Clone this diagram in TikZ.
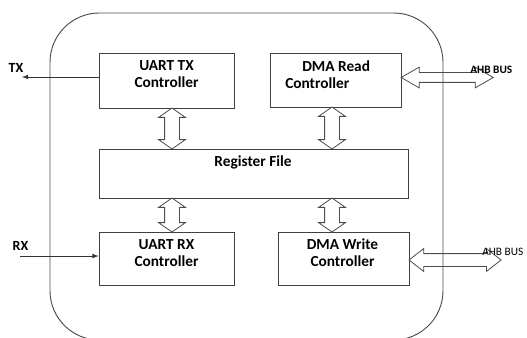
\documentclass[tikz,border=0pt]{standalone}
\usepackage{fontspec}
\setmainfont{Carlito}
\usepackage{tikz}
\usetikzlibrary{shapes, arrows, calc}

\tikzset{
  block/.style={draw=black!75, line width=0.6pt, inner sep=0pt},
  blocktext/.style={font=\bfseries\fontsize{11.5}{12.75}\selectfont, align=center, inner sep=0.75pt},
  sigtext/.style={font=\bfseries\fontsize{10.5}{12}\selectfont, inner sep=0.75pt},
  bustext/.style={font=\fontsize{8.5}{10}\selectfont, inner sep=0.75pt, anchor=west},
  sig/.style={draw=black!80, line width=0.6pt, -latex},
  busarrow/.style={double arrow, draw=black!70, line width=0.6pt, inner xsep=0pt},
}

\begin{document}
\begin{tikzpicture}[x=0.75pt,y=0.75pt,yscale=-1,xscale=1]
\useasboundingbox (0,0) rectangle (527,338);

%Outer frame
\draw[black!70, line width=0.7pt, rounded corners=37pt] (50,13) rectangle (443,340);

%Blocks
\node[block, minimum width=101.25pt, minimum height=41.25pt] (tx) at (166.5,80.5) {};
\node[block, minimum width=98.25pt, minimum height=40.5pt] (rd) at (335.5,80) {};
\node[block, minimum width=231.75pt, minimum height=36.75pt] (reg) at (253.5,173.5) {};
\node[block, minimum width=101.25pt, minimum height=39.75pt] (rx) at (166.5,258.5) {};
\node[block, minimum width=98.25pt, minimum height=39.75pt] (wr) at (343.5,258.5) {};

% Text Node
\node[blocktext] (txlbl) at (166.5,74.5) {UART TX\\Controller};
% Text Node
\node[blocktext, align=left, anchor=west] (rdlbl) at (284,74.5) {\hspace*{12.75pt}DMA Read\\Controller};
% Text Node
\node[blocktext] (reglbl) at (253,162) {Register File};
% Text Node
\node[blocktext] (rxlbl) at (166.5,253) {UART RX\\Controller};
% Text Node
\node[blocktext] (wrlbl) at (342.5,253) {DMA Write\\Controller};

%Serial lines
\node[sigtext] (txname) at (16,68) {TX};
\node[sigtext] (rxname) at (20.5,246) {RX};
\coordinate (txend) at (22,77);
\coordinate (rxstart) at (20,256);
\draw[sig] (tx.west |- txend) -- (txend);
\draw[sig] (rxstart) -- (rxstart -| rx.west);

%Register file links
\node[busarrow, rotate=90, minimum height=30.75pt, inner ysep=5.25pt, double arrow head extend=4.5pt, double arrow tip angle=110]
  (txreg) at ($(tx.south)!0.5!(reg.north -| tx.south)+(5.5,0)$) {};
\node[busarrow, rotate=90, minimum height=31.5pt, inner ysep=5.25pt, double arrow head extend=4.5pt, double arrow tip angle=110]
  (rdreg) at ($(rd.south)!0.5!(reg.north -| rd.south)+(-3.5,0)$) {};
\node[busarrow, rotate=90, minimum height=25.5pt, inner ysep=5.25pt, double arrow head extend=4.5pt, double arrow tip angle=110]
  (regrx) at ($(reg.south -| rx.north)!0.5!(rx.north)+(5.5,0)$) {};
\node[busarrow, rotate=90, minimum height=25.5pt, inner ysep=5.25pt, double arrow head extend=4.5pt, double arrow tip angle=110]
  (regwr) at ($(reg.south -| wr.north)!0.5!(wr.north)+(-11.5,0)$) {};

%AHB links
\node[busarrow, anchor=west, minimum height=69pt, inner ysep=3.375pt, double arrow head extend=4.125pt, double arrow tip angle=60]
  (rdbus) at ($(rd.east)+(-1,-2.5)$) {};
\node[busarrow, anchor=west, minimum height=69pt, inner ysep=4.5pt, double arrow head extend=3.75pt, double arrow tip angle=76]
  (wrbus) at ($(wr.east)+(-1,1.5)$) {};
\node[bustext, font=\bfseries\fontsize{8.5}{10}\selectfont] (rdbuslbl) at (469,70) {AHB BUS};
\node[bustext] (wrbuslbl) at (481,252) {AHB BUS};

\end{tikzpicture}
\end{document}
